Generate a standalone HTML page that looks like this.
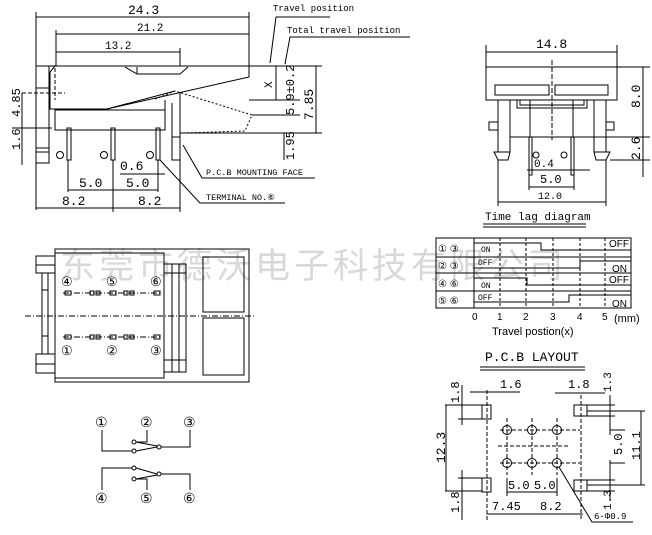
<!DOCTYPE html>
<html><head><meta charset="utf-8"><style>
html,body{margin:0;padding:0;background:#fff;}
svg{display:block}
text{font-family:"Liberation Mono",monospace;fill:#000;}
.s{font-family:"Liberation Sans",sans-serif;}
.c{font-family:"Liberation Sans","Noto Sans CJK SC",sans-serif;}
</style></head><body>
<svg width="652" height="535" viewBox="0 0 652 535" xmlns="http://www.w3.org/2000/svg" fill="none" stroke="#000" stroke-width="1">
<!-- watermark -->
<text x="60" y="278" class="c" font-size="35" fill="#d0d0d0" stroke="none" letter-spacing="4" opacity="0.8" style="fill:#cfcfcf">东莞市德沃电子科技有限公司</text>

<!-- ===== LEFT SIDE VIEW ===== -->
<g>
<line x1="36" y1="12" x2="36" y2="210"/><line x1="249" y1="12" x2="249" y2="66"/>
<line x1="56" y1="30" x2="56" y2="66"/><line x1="180" y1="48" x2="180" y2="66"/>
<line x1="36" y1="17" x2="249" y2="17"/><text x="128" y="14" stroke="none" font-size="13">24.3</text>
<line x1="56" y1="34" x2="249" y2="34"/><text x="137" y="31" stroke="none" font-size="11">21.2</text>
<line x1="56" y1="52" x2="180" y2="52"/><text x="105" y="49" stroke="none" font-size="11">13.2</text>
<!-- flange -->
<rect x="36" y="66" width="13" height="97"/>
<line x1="36" y1="88" x2="49" y2="88"/><line x1="36" y1="148" x2="49" y2="148"/><line x1="36" y1="152" x2="49" y2="152"/>
<!-- rocker -->
<polyline points="49,66 249,66 249,77 107,109 50,109 50,72 55,66"/>
<polyline points="125,67 137,74 180,74 188,67"/>
<line x1="137" y1="74" x2="137" y2="67"/>
<line x1="55" y1="68" x2="55" y2="100" stroke-dasharray="4,2"/>
<line x1="22" y1="93" x2="65" y2="93" stroke-dasharray="4,2"/>
<polyline points="155,99 175,91 252,115 245,131 182,133" stroke-dasharray="2,2"/>
<line x1="107" y1="109" x2="175" y2="91"/>
<!-- housing -->
<rect x="55" y="110" width="110" height="20"/>
<line x1="165" y1="100" x2="165" y2="130"/>
<line x1="172" y1="103" x2="172" y2="160"/><line x1="180" y1="93" x2="180" y2="163"/>
<line x1="172" y1="160" x2="180" y2="160"/><rect x="172" y="137" width="8" height="23"/>
<g stroke-width="1">
<rect x="67" y="128" width="4" height="32"/><rect x="111" y="128" width="4" height="32"/><rect x="156" y="128" width="4" height="32"/>
</g>
<circle cx="60" cy="155" r="3.5"/><circle cx="104" cy="155" r="3.5"/><circle cx="150" cy="155" r="3.5"/>
<line x1="68" y1="160" x2="68" y2="192"/><line x1="113" y1="160" x2="113" y2="212"/><line x1="158" y1="160" x2="158" y2="192"/>
<line x1="180" y1="163" x2="180" y2="212"/>
<line x1="68" y1="190" x2="158" y2="190"/>
<text x="79" y="187" stroke="none" font-size="13">5.0</text><text x="126" y="187" stroke="none" font-size="13">5.0</text>
<line x1="120" y1="174" x2="165" y2="174"/><text x="120" y="170" stroke="none" font-size="13">0.6</text>
<line x1="36" y1="208" x2="180" y2="208"/>
<text x="62" y="205" stroke="none" font-size="13">8.2</text><text x="138" y="205" stroke="none" font-size="13">8.2</text>
<!-- left dims -->
<line x1="22" y1="93" x2="22" y2="165"/><line x1="12" y1="128" x2="52" y2="128"/>
<text transform="translate(20,117) rotate(-90)" stroke="none" font-size="12">4.85</text>
<text transform="translate(20,150) rotate(-90)" stroke="none" font-size="12">1.6</text>
<!-- right dims -->
<line x1="249" y1="66" x2="322" y2="66"/><line x1="249" y1="100" x2="300" y2="100"/>
<line x1="252" y1="115" x2="300" y2="115"/><line x1="180" y1="133" x2="322" y2="133"/>
<line x1="276" y1="66" x2="276" y2="100"/>
<text transform="translate(272,88) rotate(-90)" stroke="none" font-size="11">X</text>
<text transform="translate(294,115) rotate(-90)" stroke="none" font-size="12">5.9±0.2</text>
<line x1="316" y1="66" x2="316" y2="133"/>
<text transform="translate(313,120) rotate(-90)" stroke="none" font-size="13">7.85</text>
<text transform="translate(294,160) rotate(-90)" stroke="none" font-size="12">1.95</text>
<line x1="284" y1="133" x2="284" y2="160"/>
<polyline points="270,63 276,17 330,17"/><text x="273" y="11" stroke="none" font-size="9">Travel position</text>
<polyline points="285,64 290,37 410,37"/><text x="287" y="33" stroke="none" font-size="9">Total travel position</text>
<polyline points="183,145 202,178 315,178"/><text x="206" y="175" stroke="none" font-size="8.5">P.C.B MOUNTING FACE</text>
<polyline points="160,160 200,203 285,203"/><text x="206" y="200" stroke="none" font-size="8.5">TERMINAL NO.⑥</text>
</g>

<!-- ===== FRONT VIEW ===== -->
<g>
<line x1="486" y1="45" x2="486" y2="67"/><line x1="617" y1="45" x2="617" y2="67"/>
<line x1="486" y1="52" x2="617" y2="52"/><text x="536" y="48" stroke="none" font-size="13">14.8</text>
<rect x="486" y="67" width="131" height="33"/>
<rect x="495" y="85" width="54" height="10"/><rect x="555" y="85" width="53" height="10"/>
<line x1="552" y1="60" x2="552" y2="140" stroke-dasharray="5,2"/>
<rect x="498" y="100" width="12" height="52"/><rect x="594" y="100" width="12" height="52"/>
<polygon points="494,152 510,152 508,160 498,160"/><polygon points="594,152 610,152 606,160 596,160"/>
<rect x="489" y="122" width="9" height="8"/><rect x="606" y="122" width="8" height="8"/>
<polyline points="510,100 510,137 530,137"/><polyline points="594,100 594,137 573,137"/>
<polyline points="517,100 517,108 587,108 587,100"/><polyline points="520,100 520,105 584,105 584,100"/>
<line x1="530" y1="100" x2="530" y2="137"/><line x1="573" y1="100" x2="573" y2="137"/>
<line x1="530" y1="137" x2="573" y2="137"/>
<rect x="529" y="137" width="3" height="38"/><rect x="571" y="137" width="3" height="38"/>
<circle cx="536" cy="155" r="3"/><circle cx="564" cy="155" r="3"/>
<line x1="527" y1="170" x2="590" y2="170"/><text x="534" y="167" stroke="none" font-size="11">0.4</text>
<line x1="529" y1="175" x2="529" y2="190"/><line x1="574" y1="175" x2="574" y2="190"/>
<line x1="529" y1="187" x2="574" y2="187"/><text x="540" y="183" stroke="none" font-size="12">5.0</text>
<line x1="498" y1="160" x2="498" y2="206"/><line x1="606" y1="160" x2="606" y2="206"/>
<line x1="498" y1="202" x2="606" y2="202"/><text x="538" y="199" stroke="none" font-size="10">12.0</text>
<line x1="617" y1="67" x2="650" y2="67"/><line x1="594" y1="137" x2="650" y2="137"/><line x1="610" y1="160" x2="650" y2="160"/>
<line x1="643" y1="67" x2="643" y2="177"/>
<text transform="translate(640,108) rotate(-90)" stroke="none" font-size="13">8.0</text>
<text transform="translate(640,160) rotate(-90)" stroke="none" font-size="13">2.6</text>
</g>

<!-- ===== TIME LAG ===== -->
<g>
<text x="485" y="220" stroke="none" font-size="11">Time lag diagram</text>
<line x1="483" y1="224" x2="586" y2="224"/><line x1="483" y1="227" x2="586" y2="227"/>
<rect x="436" y="238" width="195" height="70"/>
<line x1="436" y1="257" x2="631" y2="257"/><line x1="436" y1="273" x2="631" y2="273"/><line x1="436" y1="291" x2="631" y2="291"/>
<line x1="474" y1="238" x2="474" y2="308"/>
<g stroke-dasharray="3,2"><line x1="500" y1="238" x2="500" y2="308"/><line x1="526" y1="238" x2="526" y2="308"/><line x1="553" y1="238" x2="553" y2="308"/><line x1="580" y1="238" x2="580" y2="308"/><line x1="605" y1="238" x2="605" y2="308"/></g>
<g stroke="none" font-size="10" class="s">
<text x="438" y="252" class="s">① ③</text><text x="438" y="269" class="s">② ③</text><text x="438" y="287" class="s">④ ⑥</text><text x="438" y="304" class="s">⑤ ⑥</text>
</g>
<polyline points="474,243 541,243 541,250 631,250"/>
<polyline points="474,268 580,268 580,261 631,261"/>
<polyline points="474,278 527,278 527,285 631,285"/>
<polyline points="474,302 569,302 569,295 631,295"/>
<g stroke="none" font-size="8">
<text x="481" y="252">ON</text><text x="478" y="265">OFF</text><text x="481" y="288">ON</text><text x="478" y="300">OFF</text>
</g>
<g stroke="none" font-size="10" class="s">
<text x="609" y="247" class="s">OFF</text><text x="612" y="272" class="s">ON</text><text x="609" y="283" class="s">OFF</text><text x="612" y="307" class="s">ON</text>
<text x="472" y="320" class="s">0</text><text x="497" y="320" class="s">1</text><text x="523" y="320" class="s">2</text><text x="550" y="320" class="s">3</text><text x="577" y="320" class="s">4</text><text x="602" y="320" class="s">5</text><text x="614" y="322" class="s" font-size="11">(mm)</text>
<text x="492" y="335" class="s" font-size="11">Travel postion(x)</text>
</g>
</g>

<!-- ===== BOTTOM VIEW ===== -->
<g>
<rect x="55" y="249" width="194" height="133"/>
<polyline points="55,253 164,253 164,378 55,378"/>
<rect x="36" y="256" width="19" height="17"/><rect x="36" y="354" width="19" height="19"/>
<line x1="36" y1="265" x2="55" y2="265"/><line x1="36" y1="364" x2="55" y2="364"/>
<rect x="42" y="273" width="6" height="81"/>
<line x1="42" y1="290" x2="48" y2="290"/><line x1="42" y1="336" x2="48" y2="336"/>
<rect x="164" y="264" width="22" height="108"/>
<line x1="172" y1="264" x2="172" y2="372"/><line x1="179" y1="264" x2="179" y2="372"/>
<line x1="164" y1="273" x2="186" y2="273"/><line x1="164" y1="360" x2="186" y2="360"/>
<rect x="203" y="257" width="41" height="55"/><rect x="203" y="318" width="41" height="57"/>
<line x1="25" y1="316" x2="256" y2="316" stroke-dasharray="6,2,1,2"/>
<line x1="63" y1="293" x2="160" y2="293" stroke-dasharray="6,2,1,2"/>
<line x1="63" y1="337" x2="160" y2="337" stroke-dasharray="6,2,1,2"/>
<g>
<rect x="65" y="291" width="6" height="4"/><rect x="90" y="291" width="4" height="4"/><rect x="96" y="291" width="4" height="4"/><rect x="110" y="291" width="6" height="4"/><rect x="124" y="291" width="4" height="4"/><rect x="130" y="291" width="4" height="4"/><rect x="154" y="291" width="6" height="4"/>
<rect x="65" y="335" width="6" height="4"/><rect x="90" y="335" width="4" height="4"/><rect x="96" y="335" width="4" height="4"/><rect x="110" y="335" width="6" height="4"/><rect x="124" y="335" width="4" height="4"/><rect x="130" y="335" width="4" height="4"/><rect x="154" y="335" width="6" height="4"/>
</g>
<g stroke="none" font-size="13" class="s">
<text x="61" y="286" class="s">④</text><text x="106" y="286" class="s">⑤</text><text x="150" y="286" class="s">⑥</text>
<text x="61" y="355" class="s">①</text><text x="106" y="355" class="s">②</text><text x="150" y="355" class="s">③</text>
</g>
</g>

<!-- ===== CIRCUIT ===== -->
<g>
<g stroke="none" font-size="14" class="s">
<text x="95" y="427" class="s">①</text><text x="140" y="427" class="s">②</text><text x="183" y="427" class="s">③</text>
<text x="95" y="503" class="s">④</text><text x="140" y="503" class="s">⑤</text><text x="183" y="503" class="s">⑥</text>
</g>
<polyline points="102,430 102,451 132,451"/><circle cx="134" cy="451" r="2"/>
<circle cx="134" cy="442" r="2"/><polyline points="136,442 147,442 147,430"/>
<circle cx="159" cy="447" r="2"/><line x1="157" y1="447" x2="136" y2="451"/><line x1="157" y1="446" x2="136" y2="442"/>
<polyline points="161,447 190,447 190,430"/>
<polyline points="102,490 102,468 132,468"/><circle cx="134" cy="468" r="2"/>
<circle cx="134" cy="479" r="2"/><polyline points="136,479 147,479 147,490"/>
<circle cx="159" cy="474" r="2"/><line x1="157" y1="474" x2="136" y2="468"/><line x1="157" y1="475" x2="136" y2="479"/>
<polyline points="161,474 190,474 190,490"/>
</g>

<!-- ===== PCB LAYOUT ===== -->
<g>
<text x="485" y="361" stroke="none" font-size="13">P.C.B LAYOUT</text>
<line x1="480" y1="367" x2="585" y2="367"/><line x1="480" y1="370" x2="585" y2="370"/>
<rect x="482" y="405" width="9" height="14"/><rect x="482" y="478" width="9" height="14"/>
<rect x="574" y="405" width="13" height="11"/><rect x="574" y="480" width="13" height="11"/>
<line x1="487" y1="390" x2="487" y2="520" stroke-dasharray="4,2"/>
<line x1="581" y1="395" x2="581" y2="520" stroke-dasharray="4,2"/>
<g stroke-dasharray="4,2">
<line x1="500" y1="430" x2="580" y2="430"/><line x1="498" y1="446" x2="570" y2="446"/><line x1="500" y1="463" x2="580" y2="463"/>
<line x1="507" y1="418" x2="507" y2="475"/><line x1="532" y1="418" x2="532" y2="475"/><line x1="557" y1="418" x2="557" y2="475"/>
</g>
<circle cx="507" cy="430" r="4.5"/><circle cx="532" cy="430" r="4.5"/><circle cx="557" cy="430" r="4.5"/>
<circle cx="507" cy="463" r="4.5"/><circle cx="532" cy="463" r="4.5"/><circle cx="557" cy="463" r="4.5"/>
<!-- left dims -->
<line x1="445" y1="405" x2="482" y2="405"/><line x1="445" y1="491" x2="482" y2="491"/>
<line x1="446" y1="405" x2="446" y2="491"/>
<text transform="translate(445,463) rotate(-90)" stroke="none" font-size="13">12.3</text>
<line x1="462" y1="385" x2="462" y2="425"/><line x1="458" y1="419" x2="482" y2="419"/>
<line x1="462" y1="470" x2="462" y2="520"/><line x1="458" y1="478" x2="482" y2="478"/>
<text transform="translate(459,403) rotate(-90)" stroke="none" font-size="12">1.8</text>
<text transform="translate(459,513) rotate(-90)" stroke="none" font-size="12">1.8</text>
<line x1="470" y1="392" x2="520" y2="392"/><text x="500" y="388" stroke="none" font-size="12">1.6</text>
<line x1="555" y1="393" x2="605" y2="393"/><text x="568" y="388" stroke="none" font-size="12">1.8</text>
<text transform="translate(611,392) rotate(-90)" stroke="none" font-size="11">1.3</text>
<text transform="translate(611,510) rotate(-90)" stroke="none" font-size="11">1.3</text>
<line x1="610" y1="395" x2="610" y2="435"/><line x1="610" y1="460" x2="610" y2="500"/>
<line x1="587" y1="405" x2="615" y2="405"/><line x1="587" y1="416" x2="615" y2="416"/><line x1="587" y1="480" x2="615" y2="480"/><line x1="587" y1="491" x2="615" y2="491"/>
<line x1="587" y1="411" x2="645" y2="411"/><line x1="587" y1="485" x2="645" y2="485"/>
<line x1="641" y1="411" x2="641" y2="485"/>
<line x1="610" y1="430" x2="625" y2="430"/><line x1="610" y1="463" x2="625" y2="463"/>
<text transform="translate(622,455) rotate(-90)" stroke="none" font-size="12">5.0</text>
<text transform="translate(640,460) rotate(-90)" stroke="none" font-size="12">11.1</text>
<line x1="507" y1="478" x2="507" y2="496"/><line x1="557" y1="478" x2="557" y2="496"/>
<line x1="507" y1="492" x2="557" y2="492"/>
<text x="508" y="489" stroke="none" font-size="12">5.0</text><text x="534" y="489" stroke="none" font-size="12">5.0</text>
<line x1="487" y1="514" x2="583" y2="514"/>
<text x="492" y="510" stroke="none" font-size="12">7.45</text><text x="540" y="510" stroke="none" font-size="12">8.2</text>
<polyline points="559,467 592,522 633,522"/><text x="594" y="519" stroke="none" font-size="9">6-Φ0.9</text>
</g>
</svg>
</body></html>
